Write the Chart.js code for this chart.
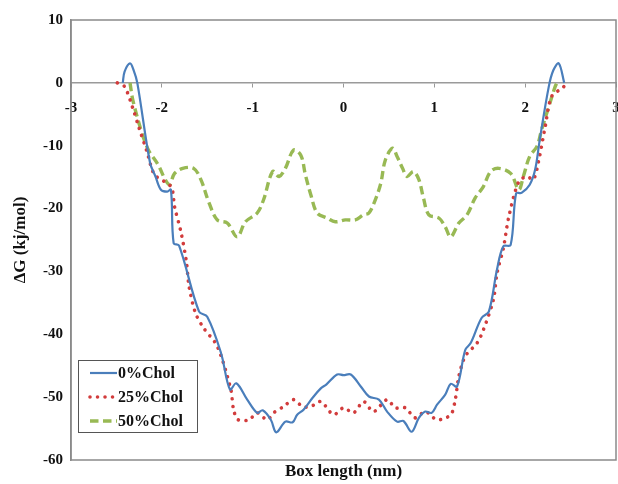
<!DOCTYPE html>
<html>
<head>
<meta charset="utf-8">
<script src="https://cdn.jsdelivr.net/npm/chart.js@4/dist/chart.umd.min.js"></script>
<style>
    html, body { margin: 0; padding: 0; background: #fff; }
    #wrap { position: relative; width: 618px; height: 484px; }
</style>
</head>
<body>
<div id="wrap"><canvas id="dg-chart" width="618" height="484"></canvas></div>
<script>
'use strict';

// 0%Chol
const x0 = [-2.43, -2.41, -2.35, -2.31, -2.27, -2.13, -2.07, -2.01, -1.94, -1.90, -1.87, -1.81, -1.59, -1.50, -1.35, -1.25, -1.18, -1.06, -0.95, -0.89, -0.80, -0.74, -0.64, -0.56, -0.51, -0.44, -0.34, -0.25, -0.19, -0.07, 0.00, 0.08, 0.19, 0.28, 0.39, 0.48, 0.59, 0.66, 0.75, 0.83, 0.90, 0.97, 1.03, 1.12, 1.18, 1.25, 1.34, 1.40, 1.52, 1.60, 1.69, 1.76, 1.84, 1.90, 1.96, 2.05, 2.11, 2.16, 2.26, 2.31, 2.37, 2.43];
const y0 = [0, 1.8, 3.1, 2.0, 0, -12.7, -14.9, -17.0, -17.3, -17.0, -25.5, -25.9, -36.4, -37.2, -42.9, -48.8, -47.8, -50.4, -52.5, -52.1, -53.6, -55.6, -53.9, -54.0, -52.8, -52.0, -50.1, -48.6, -48.0, -46.4, -46.5, -46.4, -48.3, -49.9, -50.4, -52.3, -53.9, -53.8, -55.5, -53.3, -52.3, -52.5, -51.2, -49.6, -47.9, -48.3, -42.5, -41.4, -37.4, -36.4, -29.7, -26.0, -25.8, -17.6, -17.5, -16.2, -13.8, -9.1, -0.6, 2.0, 3.1, 0];

// 25%Chol
const x25 = [-2.49, -2.41, -2.32, -2.25, -2.16, -2.08, -1.90, -1.86, -1.79, -1.73, -1.70, -1.63, -1.54, -1.39, -1.24, -1.21, -1.16, -1.04, -0.95, -0.84, -0.77, -0.66, -0.55, -0.45, -0.36, -0.25, -0.11, 0.00, 0.11, 0.22, 0.33, 0.48, 0.57, 0.68, 0.79, 0.90, 1.03, 1.18, 1.23, 1.27, 1.34, 1.47, 1.54, 1.65, 1.69, 1.76, 1.82, 1.93, 2.02, 2.09, 2.15, 2.22, 2.29, 2.40, 2.48];
const y25 = [0, -0.6, -4.0, -7.2, -11.1, -14.6, -16.5, -19.7, -23.7, -28.4, -32.4, -36.6, -39.0, -41.9, -48.8, -52.0, -53.6, -53.6, -52.5, -53.6, -52.5, -51.5, -50.4, -51.5, -51.5, -50.7, -52.8, -51.7, -52.5, -50.7, -52.3, -50.4, -51.7, -51.7, -53.3, -52.3, -53.6, -52.8, -50.4, -46.7, -43.5, -41.4, -39.3, -34.5, -30.3, -26.3, -21.3, -15.7, -14.9, -15.4, -12.3, -7.0, -2.2, -0.9, 0];

// 50%Chol
const x50 = [-2.35, -2.32, -2.23, -2.18, -2.14, -2.05, -1.92, -1.86, -1.77, -1.65, -1.57, -1.48, -1.39, -1.28, -1.17, -1.08, -0.95, -0.88, -0.78, -0.71, -0.64, -0.55, -0.47, -0.42, -0.36, -0.29, -0.18, -0.09, 0.02, 0.13, 0.22, 0.28, 0.35, 0.41, 0.46, 0.54, 0.59, 0.65, 0.70, 0.77, 0.83, 0.88, 0.94, 1.05, 1.12, 1.18, 1.27, 1.36, 1.45, 1.54, 1.62, 1.71, 1.84, 1.93, 1.98, 2.05, 2.13, 2.18, 2.26, 2.33, 2.35];
const y50 = [0, -2.7, -7.5, -9.6, -10.9, -12.8, -16.2, -14.4, -13.6, -13.6, -15.4, -19.1, -21.8, -22.3, -24.5, -22.1, -20.7, -18.6, -14.1, -14.9, -13.6, -10.7, -11.5, -14.6, -17.8, -20.7, -21.5, -22.1, -21.8, -21.8, -21.0, -20.7, -18.6, -16.0, -12.3, -10.4, -11.7, -13.6, -14.9, -14.1, -15.4, -18.3, -21.0, -21.5, -22.9, -24.5, -22.3, -21.0, -18.3, -16.5, -14.1, -13.6, -14.4, -17.0, -14.9, -11.7, -10.1, -7.5, -3.8, -0.6, 0];

const seriesLabels = ['0%Chol', '25%Chol', '50%Chol'];
const xTicks = [-3, -2, -1, 0, 1, 2, 3];
const yTicks = [-60, -50, -40, -30, -20, -10, 0, 10];

const FAMILY = '"Liberation Serif", "Times New Roman", serif';
const FONT = { family: FAMILY, size: 15, weight: 'bold' };
const TITLE_FONT = { family: FAMILY, size: 17, weight: 'bold' };
const toPoints = (xs, ys) => xs.map((x, i) => ({ x, y: ys[i] }));
const noPad = (s) => { s.paddingLeft = 0; s.paddingRight = 0; s.paddingTop = 0; s.paddingBottom = 0; };

// frame round the plot area + legend box inside it
const framePlugin = {
    id: 'frame',
    beforeDatasetsDraw(chart) {
        const { ctx, chartArea: a } = chart;
        ctx.save();
        ctx.strokeStyle = '#8a8a8a';
        ctx.lineWidth = 1.5;
        ctx.strokeRect(a.left, a.top, a.right - a.left, a.bottom - a.top);
        ctx.restore();
    },
    afterDraw(chart) {
        const { ctx } = chart;
        const box = { x: 78, y: 360, w: 119, h: 72 };
        ctx.save();
        ctx.fillStyle = '#fff';
        ctx.fillRect(box.x, box.y, box.w, box.h);
        ctx.strokeStyle = '#555';
        ctx.lineWidth = 1;
        ctx.strokeRect(box.x + 0.5, box.y + 0.5, box.w, box.h);
        chart.data.datasets.forEach((ds, i) => {
            const yy = box.y + 13 + i * 24;
            ctx.beginPath();
            ctx.strokeStyle = ds.borderColor;
            ctx.lineWidth = ds.borderWidth;
            ctx.lineCap = ds.borderCapStyle || 'butt';
            ctx.setLineDash(ds.borderDash || []);
            ctx.moveTo(90, yy);
            ctx.lineTo(117, yy);
            ctx.stroke();
            ctx.setLineDash([]);
            ctx.fillStyle = '#111';
            ctx.font = `bold 16px ${FAMILY}`;
            ctx.textBaseline = 'middle';
            ctx.fillText(ds.label, 118, yy + 1);
        });
        ctx.restore();
    }
};

const ctx = document.getElementById('dg-chart');
new Chart(ctx, {
    type: 'line',
    data: {
        datasets: [
            {
                label: seriesLabels[0],
                data: toPoints(x0, y0),
                borderColor: '#4a7ebb',
                borderWidth: 2.2,
                tension: 0.35,
            },
            {
                label: seriesLabels[1],
                data: toPoints(x25, y25),
                borderColor: '#d23c3c',
                borderWidth: 3.6,
                borderCapStyle: 'round',
                borderDash: [0.01, 7.5],
                tension: 0.3,
            },
            {
                label: seriesLabels[2],
                data: toPoints(x50, y50),
                borderColor: '#98b954',
                borderWidth: 3.4,
                borderDash: [8.5, 4.5],
                tension: 0.35,
            }
        ]
    },
    options: {
        responsive: false,
        animation: false,
        parsing: false,
        elements: { point: { radius: 0 } },
        layout: { padding: { top: 20, right: 2, left: 0, bottom: 0 } },
        plugins: {
            legend: { display: false },
            tooltip: { enabled: false }
        },
        scales: {
            x: {
                type: 'linear',
                position: { y: 0 },
                min: -3,
                max: 3,
                afterBuildTicks: (s) => { s.ticks = xTicks.map(v => ({ value: v })); },
                afterFit: noPad,
                grid: { display: true, drawOnChartArea: false, drawTicks: true, tickLength: 4, color: '#999' },
                border: { display: true, color: '#9a9a9a', width: 1.5 },
                ticks: { font: FONT, color: '#111', padding: 12, maxRotation: 0 }
            },
            x2: {
                type: 'linear',
                position: 'bottom',
                min: -3,
                max: 3,
                grid: { display: false, drawTicks: false },
                border: { display: false },
                ticks: { display: false },
                title: { display: true, text: 'Box length (nm)', font: TITLE_FONT, color: '#111', padding: { top: 0, bottom: 2 } },
                afterFit: (s) => { noPad(s); s.height = 24; }
            },
            y: {
                type: 'linear',
                min: -60,
                max: 10,
                afterBuildTicks: (s) => { s.ticks = yTicks.map(v => ({ value: v })); },
                grid: { display: false, drawTicks: false },
                border: { display: true, color: '#8a8a8a', width: 1.5 },
                ticks: { font: FONT, color: '#111', padding: 8 },
                title: { display: true, text: 'ΔG (kj/mol)', font: TITLE_FONT, color: '#111', padding: { top: 10, bottom: 0 } },
                afterFit: (s) => { noPad(s); s.width = 71; }
            }
        }
    },
    plugins: [framePlugin]
});
</script>
</body>
</html>
